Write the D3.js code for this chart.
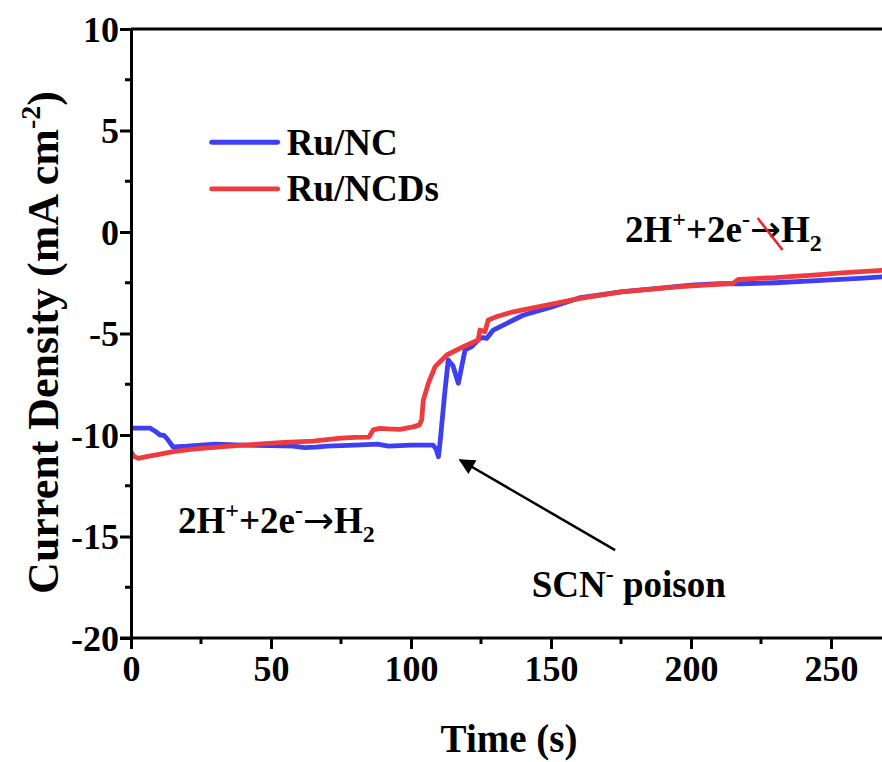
<!DOCTYPE html>
<html>
<head>
<meta charset="utf-8">
<script src="https://cdn.jsdelivr.net/npm/d3@7/dist/d3.min.js"></script>
<style>
  html, body { margin: 0; padding: 0; background: #fff; }
  svg { display: block; }
  text { font-family: "Liberation Serif", "Times New Roman", serif; font-weight: bold; fill: #000; }
</style>
</head>
<body>
<svg id="chart" width="882" height="762"></svg>
<script>
// ---- data ----
const seriesNames = ["Ru/NC", "Ru/NCDs"];
const seriesColors = ["#3e3ef2", "#ef3a3e"];

const ncTime = [0, 6.8, 8.5, 10.4, 11.8, 13, 15, 20, 30, 40, 50, 58, 62, 66, 70, 80, 88, 90, 92, 96, 100, 104, 107.9, 109, 109.8, 110.5, 112, 113.3, 115, 116.9, 118, 119.3, 121.7, 124.6, 125.8, 127, 129.4, 134.2, 140, 150, 160, 175, 190, 200, 210, 218, 230, 245, 260, 270];
const ncCurrent = [-9.66, -9.66, -9.8, -10.0, -10.02, -10.2, -10.58, -10.55, -10.45, -10.5, -10.52, -10.55, -10.62, -10.6, -10.55, -10.5, -10.45, -10.5, -10.55, -10.52, -10.5, -10.5, -10.5, -10.7, -11.07, -10.2, -8.0, -6.3, -6.6, -7.45, -6.7, -5.81, -5.65, -5.24, -5.2, -5.24, -4.83, -4.5, -4.1, -3.7, -3.25, -2.95, -2.75, -2.62, -2.55, -2.55, -2.5, -2.4, -2.28, -2.2];

const ncdTime = [0, 1, 2.6, 6, 10, 15, 22, 31.8, 40, 53.2, 65, 75, 80, 85, 86.5, 88.9, 92, 96, 100.8, 103, 103.8, 104.4, 106.2, 108.6, 112.8, 118.7, 124, 124.6, 126.4, 127.6, 131, 136.5, 148.5, 160.4, 175, 196, 215, 216.9, 230, 243.7, 255, 270];
const ncdCurrent = [-10.82, -11.05, -11.15, -11.05, -10.95, -10.82, -10.7, -10.58, -10.5, -10.38, -10.3, -10.15, -10.12, -10.1, -9.75, -9.67, -9.7, -9.72, -9.6, -9.5, -9.26, -8.28, -7.45, -6.63, -6.06, -5.65, -5.32, -4.83, -4.91, -4.33, -4.15, -3.93, -3.6, -3.27, -2.95, -2.69, -2.53, -2.33, -2.25, -2.12, -2.0, -1.88];

const xTicks = [0, 50, 100, 150, 200, 250];
const xMinorTicks = [25, 75, 125, 175, 225];
const yTicks = [10, 5, 0, -5, -10, -15, -20];
const yMinorTicks = [7.5, 2.5, -2.5, -7.5, -12.5, -17.5];

// ---- layout ----
const W = 882, H = 762;
const m = { left: 131, top: 29, bottom: 638 };
const x = d3.scaleLinear().domain([0, 250]).range([131, 831]);
const y = d3.scaleLinear().domain([-20, 10]).range([638, 29]);

const svg = d3.select("#chart");
svg.append("rect").attr("width", W).attr("height", H).attr("fill", "#fff");

const defs = svg.append("defs");
defs.append("clipPath").attr("id", "plotclip")
  .append("rect").attr("x", m.left).attr("y", m.top).attr("width", W - m.left).attr("height", m.bottom - m.top);
defs.append("marker").attr("id", "ah").attr("viewBox", "0 0 10 10")
  .attr("refX", 9).attr("refY", 5)
  .attr("markerUnits", "userSpaceOnUse").attr("orient", "auto")
  .attr("markerWidth", 22).attr("markerHeight", 16)
  .append("path").attr("d", "M0,0 L10,5 L0,10 Z").attr("fill", "#000");

// ---- lines ----
const series = [
  { name: seriesNames[0], color: seriesColors[0], pts: ncTime.map((t, i) => [t, ncCurrent[i]]) },
  { name: seriesNames[1], color: seriesColors[1], pts: ncdTime.map((t, i) => [t, ncdCurrent[i]]) }
];
const line = d3.line().x(d => x(d[0])).y(d => y(d[1]));
const g = svg.append("g").attr("clip-path", "url(#plotclip)");
series.forEach(s => {
  g.append("path").attr("d", line(s.pts)).attr("fill", "none")
    .attr("stroke", s.color).attr("stroke-width", 4.8)
    .attr("stroke-linejoin", "round").attr("stroke-linecap", "round");
});

// ---- axes ----
function styleAxis(sel) {
  sel.select(".domain").attr("stroke", "#000").attr("stroke-width", 3);
  sel.selectAll(".tick line").attr("stroke", "#000").attr("stroke-width", 3);
}
const xAxis = svg.append("g").attr("transform", `translate(0,${m.bottom})`)
  .call(d3.axisBottom(x).tickValues(xTicks).tickSize(11).tickPadding(6).tickSizeOuter(0).tickFormat(d3.format("d")));
xAxis.select(".domain").attr("d", `M${m.left - 11},0H${W}`);
styleAxis(xAxis);
xAxis.selectAll(".tick text").attr("font-size", 36).attr("dy", "0.71em");
xAxis.selectAll(".minor").data(xMinorTicks).enter().append("line")
  .attr("x1", d => x(d)).attr("x2", d => x(d)).attr("y1", 0).attr("y2", 6)
  .attr("stroke", "#000").attr("stroke-width", 3);

const yAxis = svg.append("g").attr("transform", `translate(${m.left},0)`)
  .call(d3.axisLeft(y).tickValues(yTicks).tickSize(11).tickPadding(1).tickSizeOuter(0).tickFormat(d => String(d)));
styleAxis(yAxis);
yAxis.selectAll(".tick text").attr("font-size", 36).attr("dy", "0.34em");
yAxis.selectAll(".minor").data(yMinorTicks).enter().append("line")
  .attr("y1", d => y(d)).attr("y2", d => y(d)).attr("x1", 0).attr("x2", -6)
  .attr("stroke", "#000").attr("stroke-width", 3);

// top border
svg.append("line").attr("x1", m.left).attr("x2", W).attr("y1", y(10)).attr("y2", y(10))
  .attr("stroke", "#000").attr("stroke-width", 3);

// axis titles
svg.append("text").attr("x", x(135)).attr("y", 752).attr("text-anchor", "middle")
  .attr("font-size", 39).text("Time (s)");
const yt = svg.append("text").attr("transform", `translate(58,${(y(-20) + y(10)) / 2 + 9}) rotate(-90)`)
  .attr("text-anchor", "middle").attr("font-size", 44);
yt.append("tspan").text("Current Density (mA cm");
yt.append("tspan").attr("font-size", 28).attr("dy", -18).text("-2");
yt.append("tspan").attr("dy", 18).text(")");

// ---- legend ----
series.forEach((s, i) => {
  const ly = y([4.42, 2.12][i]);
  svg.append("line").attr("x1", x(28.8)).attr("x2", x(52.4)).attr("y1", ly).attr("y2", ly)
    .attr("stroke", s.color).attr("stroke-width", 4.8).attr("stroke-linecap", "round");
  svg.append("text").attr("x", x(55.6)).attr("y", y([3.79, 1.54][i])).attr("font-size", 37).text(s.name);
});

// ---- annotations ----
function reaction(tx, vy) {
  const t = svg.append("text").attr("x", x(tx)).attr("y", y(vy)).attr("font-size", 37);
  t.append("tspan").text("2H");
  t.append("tspan").attr("font-size", 24).attr("dy", -15).text("+");
  t.append("tspan").attr("dy", 15).text("+2e");
  t.append("tspan").attr("font-size", 24).attr("dy", -15).text("-");
  t.append("tspan").attr("dy", 15).attr("font-family", "DejaVu Sans").attr("font-weight", "normal").text("→");
  t.append("tspan").text("H");
  t.append("tspan").attr("font-size", 24).attr("dy", 9).text("2");
  return t;
}
reaction(16.8, -14.83);
reaction(176.4, -0.48);
// red slash through the arrow
svg.append("line").attr("x1", x(223.8)).attr("y1", y(0.69)).attr("x2", x(232.7)).attr("y2", y(-0.89))
  .attr("stroke", "#e8232b").attr("stroke-width", 2.5);

const sc = svg.append("text").attr("x", x(143.1)).attr("y", y(-17.97)).attr("font-size", 37);
sc.append("tspan").text("SCN");
sc.append("tspan").attr("font-size", 24).attr("dy", -15).text("-");
sc.append("tspan").attr("dy", 15).text(" poison");

svg.append("line").attr("x1", x(172.9)).attr("y1", y(-15.67)).attr("x2", x(117.5)).attr("y2", y(-11.23))
  .attr("stroke", "#000").attr("stroke-width", 2.5).attr("marker-end", "url(#ah)");
</script>
</body>
</html>
